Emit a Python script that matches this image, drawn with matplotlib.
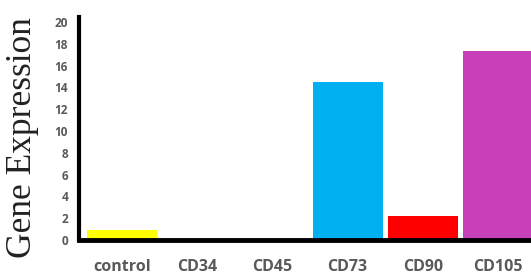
import matplotlib.pyplot as plt

markers = ["control", "CD34", "CD45", "CD73", "CD90", "CD105"]
expression = [0.95, 0, 0, 14.5, 2.2, 17.3]
bar_colors = ["#FFFF00", "#FFFFFF", "#FFFFFF", "#00B0F0", "#FF0000", "#C840B8"]
y_ticks = [0, 2, 4, 6, 8, 10, 12, 14, 16, 18, 20]

fig = plt.figure(figsize=(5.31, 2.77), dpi=100)
ax = fig.add_axes([0.149, 0.1336, 0.861, 0.805])

ax.bar(range(len(markers)), expression, width=0.93, color=bar_colors)

ax.set_xlim(-0.57, 5.51)
ax.set_ylim(0, 20.46)

ax.spines["top"].set_visible(False)
ax.spines["right"].set_visible(False)
ax.spines["left"].set_linewidth(3)
ax.spines["bottom"].set_linewidth(3.5)

ax.set_yticks(y_ticks)
ax.set_yticklabels([str(t) for t in y_ticks], fontsize=8.5, fontweight="bold",
                   color="#595959", family="Open Sans")
ax.set_xticks(range(len(markers)))
ax.set_xticklabels(markers, fontsize=11.5, fontweight="bold", color="#595959",
                   family="Open Sans")
ax.tick_params(axis="y", length=0, pad=8)
ax.tick_params(axis="x", length=0, pad=14)

fig.text(0.043, 0.505, "Gene Expression", rotation=90, ha="center", va="center",
         fontsize=25.5, family="Liberation Serif", color="#222222")

fig.savefig("out.png", dpi=100)
